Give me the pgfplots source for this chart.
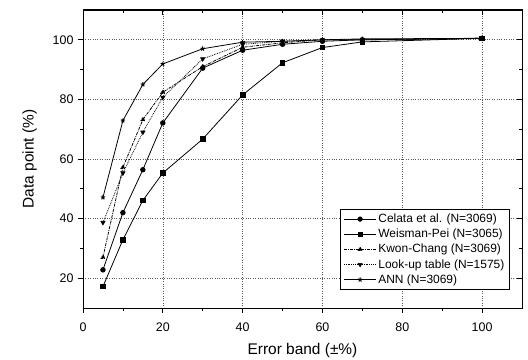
\documentclass[border=0pt]{standalone}
\usepackage{pgfplots}
\pgfplotsset{compat=1.18}
\usepackage{fontspec}
\setmainfont{Liberation Sans}
\begin{document}
\begin{tikzpicture}
\begin{axis}[
  scale only axis,
  width=439bp, height=298bp,
  xmin=0, xmax=110, ymin=10, ymax=110,
  xtick={0,20,40,60,80,100},
  ytick={20,40,60,80,100},
  minor xtick={10,30,50,70,90},
  minor ytick={30,50,70,90},
  xtick pos=bottom, ytick pos=left,
  tick align=outside,
  major tick length=5bp, minor tick length=3bp,
  tick style={black, line width=0.8pt},
  axis line style={line width=1pt},
  grid=major,
  major grid style={dotted, gray!70!black, line width=0.6pt},
  /pgf/number format/assume math mode=true,
  ticklabel style={font=\fontsize{12.5}{14}\selectfont},
  xticklabel style={yshift=-6bp},
  yticklabel style={xshift=-1bp},
  xlabel={Error band (\textpm\%)},
  ylabel={Data point (\%)},
  label style={font=\fontsize{15.5}{18}\selectfont},
  xlabel style={yshift=-5bp},
  ylabel style={yshift=9bp},
  legend style={at={(rel axis cs:0.972,0.06)}, anchor=south east,
    font=\fontsize{12}{14}\selectfont, draw=black, line width=0.8pt,
    row sep=1pt, inner sep=3pt},
  legend cell align=left,
  legend image code/.code={\draw[mark repeat=2,mark phase=2,line width=0.6pt] plot coordinates {(0bp,0bp) (16bp,0bp) (32bp,0bp)};},
  every axis plot/.append style={black, line width=0.8pt, mark size=2.3pt},
]
\coordinate (bl) at (rel axis cs:0,0);
\coordinate (tr) at (rel axis cs:1,1);
\addplot[mark=*, solid] coordinates {(5,22.8) (10,42) (15,56.4) (20,72.1) (30,90.5) (40,96.5) (50,98.5) (60,99.5) (70,100) (100,100.5)};
\addlegendentry{Celata et al. (N=3069)}
\addplot[mark=square*, solid] coordinates {(5,17.2) (10,32.9) (15,46.1) (20,55.3) (30,66.7) (40,81.5) (50,92.3) (60,97.4) (70,99.3) (100,100.5)};
\addlegendentry{Weisman-Pei (N=3065)}
\addplot[mark=triangle*, densely dashdotted] coordinates {(5,27) (10,57.2) (15,73.2) (20,82.4) (30,91) (40,97.5) (50,99) (60,100) (70,100) (100,100.5)};
\addlegendentry{Kwon-Chang (N=3069)}
\addplot[mark=triangle*, mark options={rotate=180, solid}, densely dotted] coordinates {(5,38.7) (10,55.3) (15,69) (20,80.7) (30,93.6) (40,98.5) (50,99.5) (60,100) (70,100) (100,100.5)};
\addlegendentry{Look-up table (N=1575)}
\addplot[mark=star, mark options={line width=1pt}, solid] coordinates {(5,47.1) (10,72.9) (15,85) (20,91.9) (30,97) (40,99.2) (50,99.5) (60,100) (70,100.3) (100,100.5)};
\addlegendentry{ANN (N=3069)}
\end{axis}
\begin{axis}[
  scale only axis,
  width=439bp, height=298bp,
  xmin=0, xmax=110, ymin=10, ymax=110,
  xtick={0,20,40,60,80,100},
  ytick={20,40,60,80,100},
  minor xtick={10,30,50,70,90},
  minor ytick={30,50,70,90},
  xtick pos=top, ytick pos=right,
  tick align=inside,
  major tick length=5bp, minor tick length=3bp,
  tick style={black, line width=0.8pt},
  axis line style={line width=1pt},
  xticklabels={}, yticklabels={},
]
\end{axis}
\pgfresetboundingbox
\path[use as bounding box] ([shift={(-83bp,-52bp)}]bl) rectangle ([shift={(6bp,10bp)}]tr);
\end{tikzpicture}
\end{document}
